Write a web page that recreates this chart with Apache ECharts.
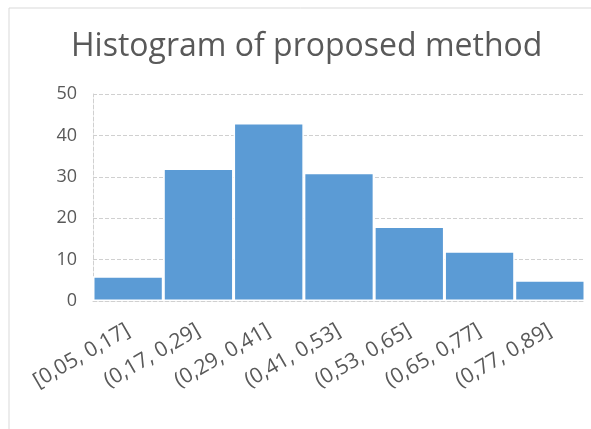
<!DOCTYPE html>
<html>
<head>
<meta charset="utf-8">
<script src="https://cdn.jsdelivr.net/npm/echarts@6/dist/echarts.min.js"></script>
<style>
html,body{margin:0;padding:0;background:#fff;}
#c{width:591px;height:429px;}
</style>
</head>
<body>
<div id="c"></div>
<script>
const categories = ['[0,05, 0,17]', '(0,17, 0,29]', '(0,29, 0,41]', '(0,41, 0,53]', '(0,53, 0,65]', '(0,65, 0,77]', '(0,77, 0,89]'];
const counts = [6, 32, 43, 31, 18, 12, 5];
const yTicks = [0, 10, 20, 30, 40, 50];

const chart = echarts.init(document.getElementById('c'));
const txt = '#595959';
chart.setOption({
  animation: false,
  graphic: [{
    type: 'rect',
    shape: { x: 9, y: 8, width: 700, height: 500 },
    style: { fill: 'none', stroke: '#d9d9d9', lineWidth: 1 },
    silent: true
  }],
  title: {
    text: 'Histogram of proposed method',
    left: 66,
    top: 26,
    textStyle: { fontFamily: 'Open Sans', fontSize: 32, fontWeight: 'normal', color: txt }
  },
  grid: { left: 93, right: 6, top: 94, bottom: 128 },
  xAxis: {
    type: 'category',
    data: categories,
    axisLine: { show: true, lineStyle: { color: '#d0d0d0', type: 'dashed' } },
    axisTick: { show: false },
    axisLabel: { interval: 0, rotate: 30, margin: 28, fontFamily: 'Open Sans', fontSize: 21, color: txt }
  },
  yAxis: {
    type: 'value',
    min: yTicks[0],
    max: yTicks[yTicks.length - 1],
    interval: 10,
    axisLine: { show: true, lineStyle: { color: '#d0d0d0', type: 'dashed' } },
    axisTick: { show: false },
    splitLine: { lineStyle: { color: '#d0d0d0', type: 'dashed' } },
    axisLabel: { margin: 16, fontFamily: 'Open Sans', fontSize: 18, color: txt }
  },
  series: [{
    type: 'bar',
    data: counts,
    barCategoryGap: '0%',
    itemStyle: { color: '#5b9bd5', borderColor: '#ffffff', borderWidth: 1.5 }
  }]
});
</script>
</body>
</html>
